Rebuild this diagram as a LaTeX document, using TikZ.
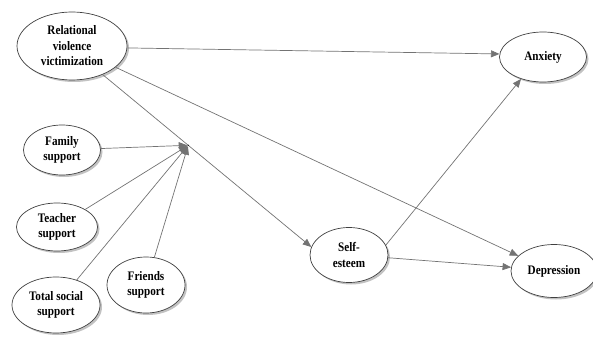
\documentclass[tikz,border=0pt]{standalone}
\usepackage{fontspec}
\setmainfont{Liberation Serif}[FakeStretch=0.86]
\usetikzlibrary{arrows.meta,shapes.geometric,calc,shadows}

\begin{document}
\begin{tikzpicture}[x=1pt, y=-1pt,
    var/.style={draw=black!75, ellipse, fill=white, inner sep=0pt, line width=0.7pt, align=center,
        font=\fontsize{13}{15.5}\selectfont\bfseries,
        drop shadow={shadow xshift=2pt, shadow yshift=-2pt, fill=black!40, opacity=.6}},
    arrow/.style={-{Triangle[length=8.5pt, width=7pt]}, draw=black!55, line width=0.7pt}
]
\useasboundingbox (0,0) rectangle (593,339);

% The variables
\node[var, minimum width=110pt, minimum height=68pt] (rvv) at (72, 46) {Relational\\violence\\victimization};
\node[var, minimum width=77pt, minimum height=50pt] (family) at (62, 150) {Family\\support};
\node[var, minimum width=81pt, minimum height=48pt] (teacher) at (57, 227) {Teacher\\support};
\node[var, minimum width=88pt, minimum height=56pt] (total) at (56, 305) {Total social\\support};
\node[var, minimum width=78pt, minimum height=56pt] (friends) at (146, 285) {Friends\\support};
\node[var, minimum width=78pt, minimum height=55pt] (self) at (349, 255) {Self-\\esteem};
\node[var, minimum width=87pt, minimum height=50pt] (anx) at (543, 57) {Anxiety};
\node[var, minimum width=86pt, minimum height=53pt] (dep) at (554, 271) {Depression};

% Main paths
\draw[arrow] (rvv.-2) -- (anx.176);
\draw[arrow] (rvv.-26) -- (dep.157);
\draw[arrow] (rvv.-43) -- (self.168);
\draw[arrow] (self.15) -- (anx.225);
\draw[arrow] (self.-4) -- (dep.175);

% Moderators
\coordinate (mod) at ($(rvv.-43)!0.41!(self.168)$);
\fill[black] (mod) circle (0.7pt);
\draw[arrow, shorten >=1pt] (family) -- (mod);
\draw[arrow, shorten >=1pt] (teacher) -- (mod);
\draw[arrow, shorten >=1pt] (total) -- (mod);
\draw[arrow, shorten >=1pt] (friends) -- (mod);

\end{tikzpicture}
\end{document}
